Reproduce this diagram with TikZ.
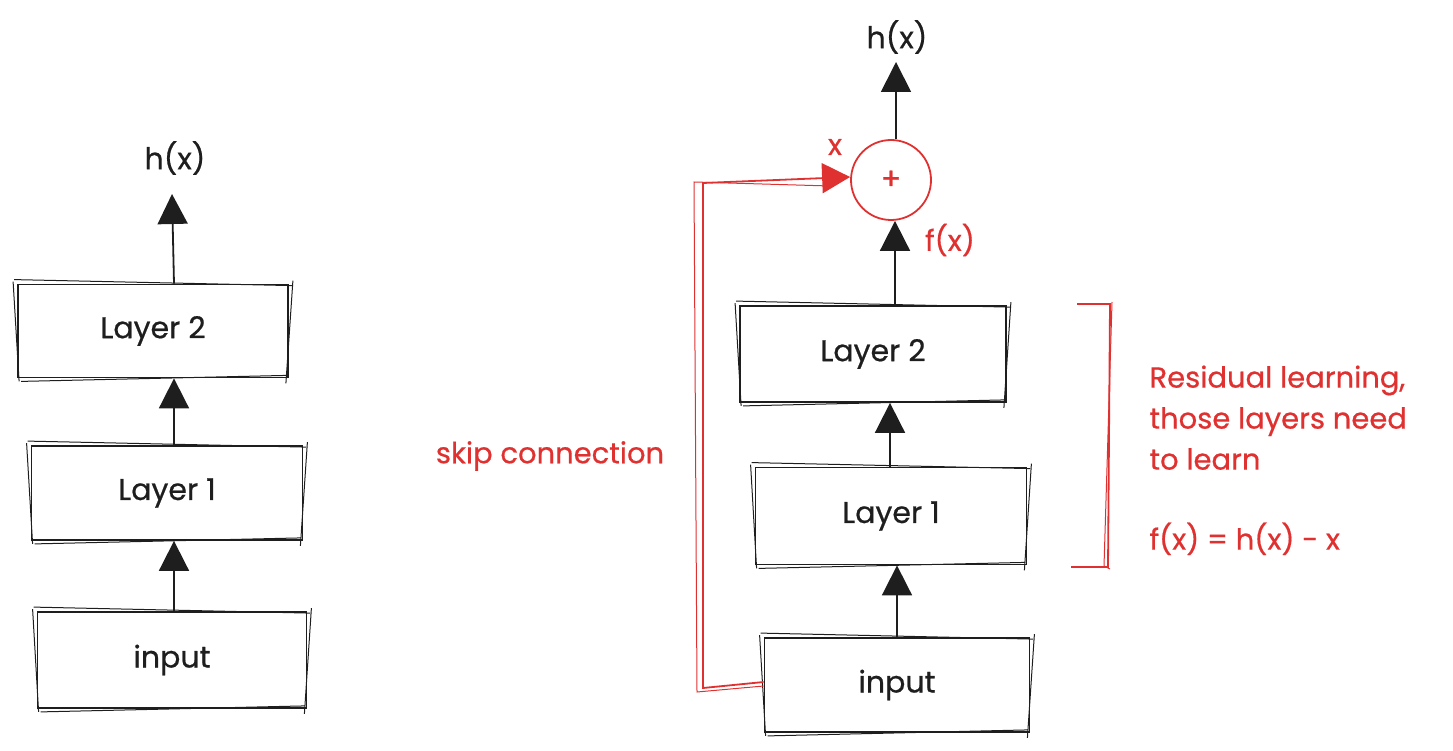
\documentclass[tikz,border=0pt]{standalone}
\usepackage{fontspec}
\setmainfont{Poppins}[FakeBold=0.6]
\usetikzlibrary{arrows.meta,calc}
\definecolor{ink}{HTML}{1E1E1E}
\definecolor{rd}{HTML}{E03131}
\tikzset{
  box/.style={draw=ink, line width=1.8pt, minimum width=#1, inner sep=0pt},
  box/.default=270pt,
  lbl/.style={text=ink, font=\fontsize{30}{34}\selectfont},
  rtxt/.style={text=rd, font=\fontsize{29}{34}\selectfont},
  rlbl/.style={text=rd, font=\fontsize{29}{41}\selectfont, align=left, anchor=north west},
  arr/.style={draw=ink, line width=1.8pt, -{Triangle[length=30pt,width=30pt]}},
  rarr/.style={draw=rd, line width=1.8pt, -{Triangle[length=28pt,width=30pt]}},
  sk/.style={line width=1pt},
}
\begin{document}
\begin{tikzpicture}[x=1pt,y=-1pt]
\useasboundingbox (0,0) rectangle (1453,751);
% ---------- left network ----------
\node[box=270pt, minimum height=93pt] (L2) at (153,331) {};
\node[lbl] at (L2.center) {Layer 2};
\node[box=271pt, minimum height=94pt] (L1) at (167,493) {};
\node[lbl] at (L1.center) {Layer 1};
\node[box=269pt, minimum height=96pt] (Lin) at (172,660) {};
\node[lbl] at (Lin.center) {input};
\node[lbl] (Lh) at (175,158) {h(x)};
\coordinate (Ltip) at (172,194);
% sketch strokes
\foreach \n in {L2,L1,Lin}{
  \draw[ink,sk] ([shift={(-3,-4)}]\n.north west) -- ([shift={(3,2)}]\n.north east);
  \draw[ink,sk] ([shift={(4,3)}]\n.south west) -- ([shift={(-2,-3)}]\n.south east);
  \draw[ink,sk] ([shift={(-4,-2)}]\n.north west) -- ([shift={(2,3)}]\n.south west);
  \draw[ink,sk] ([shift={(4,-3)}]\n.north east) -- ([shift={(-3,5)}]\n.south east);
}
\draw[arr] ([xshift=21pt]L2.north) -- (Ltip);
\draw[arr] ([xshift=7pt]L1.north) -- ([xshift=21pt]L2.south);
\draw[arr] ([xshift=2pt]Lin.north) -- ([xshift=7pt]L1.south);
% ---------- right network ----------
\node[box=266pt, minimum height=96pt] (R2) at (873,354) {};
\node[lbl] at (R2.center) {Layer 2};
\node[box=271pt, minimum height=97pt] (R1) at (891,516) {};
\node[lbl] at (R1.center) {Layer 1};
\node[box=265pt, minimum height=94pt] (Rin) at (897,685) {};
\node[lbl] at (Rin.center) {input};
\foreach \n in {R2,R1,Rin}{
  \draw[ink,sk] ([shift={(-3,-4)}]\n.north west) -- ([shift={(3,2)}]\n.north east);
  \draw[ink,sk] ([shift={(4,3)}]\n.south west) -- ([shift={(-2,-3)}]\n.south east);
  \draw[ink,sk] ([shift={(-4,-2)}]\n.north west) -- ([shift={(2,3)}]\n.south west);
  \draw[ink,sk] ([shift={(4,-3)}]\n.north east) -- ([shift={(-3,5)}]\n.south east);
}
\node[circle, draw=rd, line width=1.8pt, minimum size=80pt, inner sep=0pt] (sum) at (891,180) {};
\node[text=rd, font=\fontsize{30}{30}\selectfont] at (sum.center) {+};
\node[lbl] (Rh) at (897,37) {h(x)};
\coordinate (Rtip) at (896,62);
\draw[arr] ([xshift=5pt]sum.north) -- (Rtip);
\draw[arr] ([xshift=22pt]R2.north) -- ([xshift=4pt]sum.south);
\draw[arr] ([xshift=-1pt]R1.north) -- ([xshift=17pt]R2.south);
\draw[arr] (Rin.north) -- ([xshift=6pt]R1.south);
\node[rtxt] (fx) at (950,240) {f(x)};
\node[rtxt] (xl) at (835,147) {x};
% skip connection
\coordinate (sk1) at (703,688);
\coordinate (sk2) at (703,183);
\draw[rarr] ([yshift=3pt]Rin.west) -- (sk1) -- (sk2) -- ([yshift=3pt]sum.west);
\draw[rd,sk] ([yshift=-1pt]Rin.west) -- (697,692) -- (694,182) -- (830,186);
\node[rtxt] (skl) at (550,456) {skip connection};
% bracket
\draw[rd, line width=1.8pt] (1077,304) -- (1110,304) -- (1108,567) -- (1071,567);
\draw[rd, sk] (1112,302) -- (1104,566) -- (1110,569);
% notes
\node[rlbl] (note) at (1146,362) {Residual learning,\\those layers need\\to learn};
\node[rlbl] (eq) at (1146,519) {f(x) = h(x) - x};
\end{tikzpicture}
\end{document}
